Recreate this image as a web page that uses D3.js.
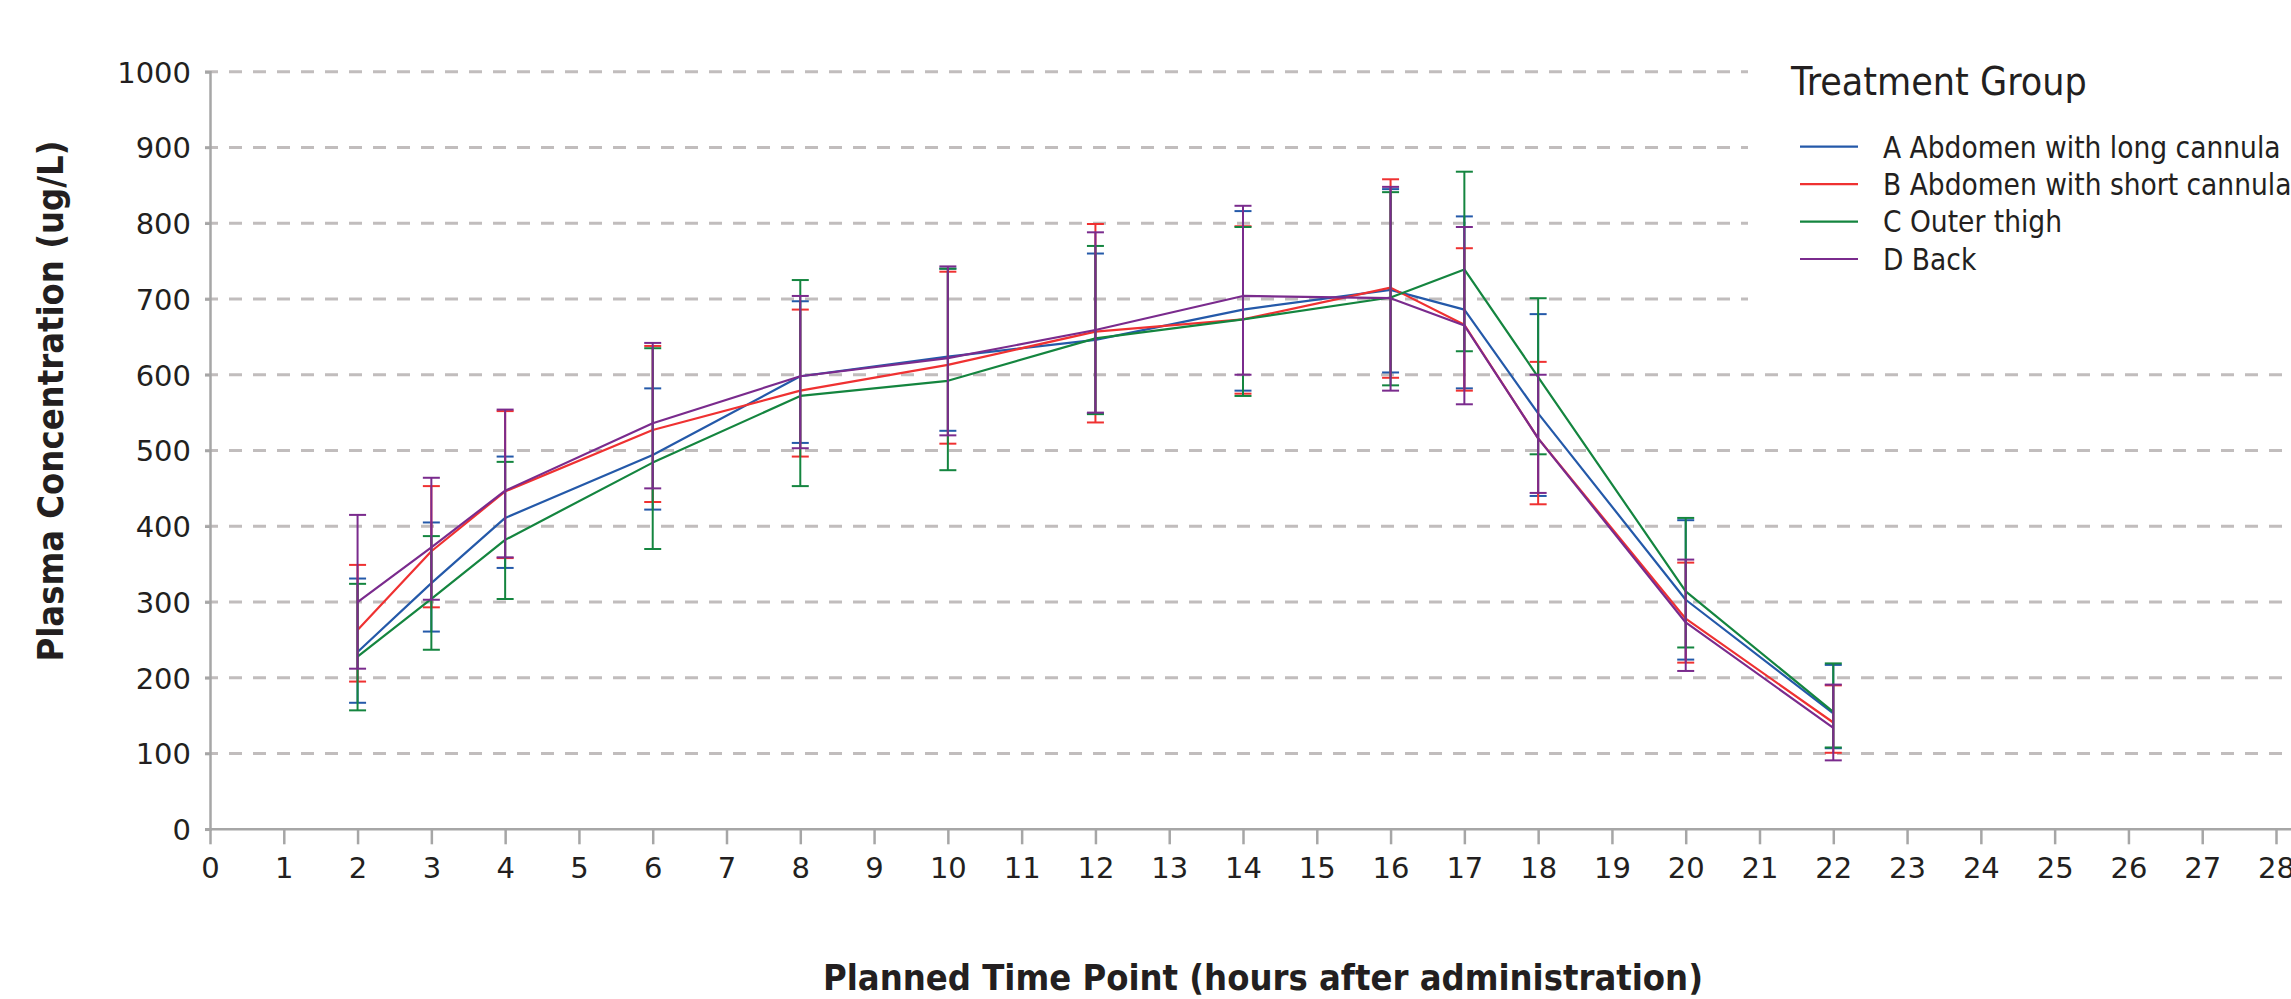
<!DOCTYPE html>
<html>
<head>
<meta charset="utf-8">
<script src="https://cdn.jsdelivr.net/npm/d3@7"></script>
<style>
  html, body { margin: 0; padding: 0; background: #ffffff; }
  svg { display: block; }
  .cond { font-family: "DejaVu Sans Condensed", "DejaVu Sans", sans-serif; font-stretch: condensed; }
</style>
</head>
<body>
<svg id="chart" width="2291" height="999"></svg>
<script>
// ---------------- data ----------------
const timePoints = [2, 3, 4, 6, 8, 10, 12, 14, 16, 17, 18, 20, 22];
const xTickValues = d3.range(0, 29);
const yTickValues = [0, 100, 200, 300, 400, 500, 600, 700, 800, 900, 1000];

const groupNames = [
  "A Abdomen with long cannula",
  "B Abdomen with short cannula",
  "C Outer thigh",
  "D Back"
];
const groupColors = ["#2459a9", "#ef3131", "#14853f", "#7a2b8d"];

const meanA  = [234, 325, 411, 494, 598, 624, 646, 686, 712, 686, 549, 303, 153];
const lowerA = [167, 261, 345, 422, 510, 526, 549, 579, 603, 582, 440, 224, 107];
const upperA = [331, 405, 492, 582, 697, 740, 760, 816, 845, 809, 680, 408, 217];

const meanB  = [263, 367, 446, 527, 579, 613, 657, 673, 715, 666, 516, 278, 141];
const lowerB = [195, 293, 358, 432, 492, 509, 537, 575, 596, 579, 429, 220, 101];
const upperB = [349, 453, 552, 638, 686, 736, 799, 796, 858, 767, 617, 352, 190];

const meanC  = [228, 304, 382, 484, 572, 592, 648, 673, 702, 739, 597, 314, 155];
const lowerC = [157, 237, 304, 370, 453, 474, 548, 572, 586, 631, 495, 240, 108];
const upperC = [324, 387, 485, 635, 725, 740, 770, 795, 841, 868, 701, 411, 219];

const meanD  = [300, 372, 447, 536, 598, 622, 659, 704, 701, 665, 516, 273, 134];
const lowerD = [212, 303, 359, 450, 503, 520, 550, 600, 579, 561, 444, 209, 91];
const upperD = [415, 464, 554, 642, 704, 743, 788, 823, 848, 795, 600, 356, 191];

const xTitle = "Planned Time Point (hours after administration)";
const yTitle = "Plasma Concentration (ug/L)";
const legendTitle = "Treatment Group";

// ---------------- build ----------------
const groups = [
  { name: groupNames[0], color: groupColors[0], mean: meanA, lo: lowerA, hi: upperA },
  { name: groupNames[1], color: groupColors[1], mean: meanB, lo: lowerB, hi: upperB },
  { name: groupNames[2], color: groupColors[2], mean: meanC, lo: lowerC, hi: upperC },
  { name: groupNames[3], color: groupColors[3], mean: meanD, lo: lowerD, hi: upperD }
].map(g => ({
  ...g,
  points: timePoints.map((t, i) => ({ t, m: g.mean[i], lo: g.lo[i], hi: g.hi[i] }))
}));

const W = 2291, H = 999;
const svg = d3.select("#chart");

const x = d3.scaleLinear().domain([0, 28]).range([210, 2276]);
const y = d3.scaleLinear().domain([0, 1000]).range([829.3, 71.7]);

const gridColor = "#c1bdbd";
const axisColor = "#a6a6a6";
const textColor = "#231f20";

// gridlines
svg.append("g")
  .selectAll("line")
  .data(yTickValues.filter(v => v > 0))
  .join("line")
  .attr("x1", 205).attr("x2", W)
  .attr("y1", d => y(d)).attr("y2", d => y(d))
  .attr("stroke", gridColor)
  .attr("stroke-width", 3)
  .attr("stroke-dasharray", "13,11");

// legend background (covers gridlines on the upper right)
svg.append("rect")
  .attr("x", 1748).attr("y", 0)
  .attr("width", W - 1748).attr("height", 338)
  .attr("fill", "#ffffff");

// y axis
const yAxis = d3.axisLeft(y).tickValues(yTickValues).tickSize(5).tickPadding(14).tickFormat(d3.format("d"));
const gy = svg.append("g").attr("transform", "translate(210,0)").call(yAxis);
gy.select(".domain").attr("stroke", axisColor).attr("stroke-width", 2.5);
gy.selectAll(".tick line").attr("stroke", axisColor).attr("stroke-width", 2.5);
gy.selectAll(".tick text")
  .attr("fill", textColor)
  .style("font-family", "DejaVu Sans, sans-serif")
  .style("font-size", "29px")
  .attr("dy", "0.36em");

// x axis
const xAxis = d3.axisBottom(x).tickValues(xTickValues).tickSize(15).tickPadding(13).tickFormat(d3.format("d"));
const gx = svg.append("g").attr("transform", "translate(0,829.3)").call(xAxis);
gx.select(".domain").attr("d", `M205,0H${W}`).attr("stroke", axisColor).attr("stroke-width", 2.5);
gx.selectAll(".tick line").attr("stroke", axisColor).attr("stroke-width", 2.5);
gx.selectAll(".tick text")
  .attr("fill", textColor)
  .style("font-family", "DejaVu Sans, sans-serif")
  .style("font-size", "29px")
  .attr("dy", "0.71em");

// series
const line = d3.line().x(d => x(d.t)).y(d => y(d.m));
const capHalf = 8.5;

const series = svg.append("g").selectAll("g").data(groups).join("g");

series.each(function (g) {
  const sel = d3.select(this);
  // error bars
  const eb = sel.append("g").attr("stroke", g.color).attr("stroke-width", 2).attr("fill", "none");
  eb.selectAll("line.v").data(g.points).join("line").attr("class", "v")
    .attr("x1", d => x(d.t)).attr("x2", d => x(d.t))
    .attr("y1", d => y(d.lo)).attr("y2", d => y(d.hi));
  eb.selectAll("line.ct").data(g.points).join("line").attr("class", "ct")
    .attr("x1", d => x(d.t) - capHalf).attr("x2", d => x(d.t) + capHalf)
    .attr("y1", d => y(d.hi)).attr("y2", d => y(d.hi));
  eb.selectAll("line.cb").data(g.points).join("line").attr("class", "cb")
    .attr("x1", d => x(d.t) - capHalf).attr("x2", d => x(d.t) + capHalf)
    .attr("y1", d => y(d.lo)).attr("y2", d => y(d.lo));
  // mean line
  sel.append("path")
    .attr("d", line(g.points))
    .attr("fill", "none")
    .attr("stroke", g.color)
    .attr("stroke-width", 2.2)
    .attr("stroke-linejoin", "round");
});

// axis titles
svg.append("text")
  .attr("class", "cond")
  .attr("x", 1263).attr("y", 990)
  .attr("text-anchor", "middle")
  .attr("fill", textColor)
  .style("font-size", "36px")
  .style("font-weight", "bold")
  .text(xTitle);

svg.append("text")
  .attr("class", "cond")
  .attr("transform", "translate(63,401) rotate(-90)")
  .attr("text-anchor", "middle")
  .attr("fill", textColor)
  .style("font-size", "36px")
  .style("font-weight", "bold")
  .text(yTitle);

// legend
const legend = svg.append("g").attr("class", "cond");
legend.append("text")
  .attr("x", 1791).attr("y", 95)
  .attr("fill", textColor)
  .style("font-size", "39px")
  .text(legendTitle);

const legendY = d3.scalePoint().domain(groupNames).range([146.7, 259]);
const items = legend.selectAll("g.item").data(groups).join("g").attr("class", "item")
  .attr("transform", d => `translate(0,${legendY(d.name)})`);
items.append("line")
  .attr("x1", 1800).attr("x2", 1858).attr("y1", 0).attr("y2", 0)
  .attr("stroke", d => d.color).attr("stroke-width", 2.2);
items.append("text")
  .attr("x", 1883).attr("y", 10.8)
  .attr("fill", textColor)
  .style("font-size", "29.5px")
  .text(d => d.name);
</script>
</body>
</html>
